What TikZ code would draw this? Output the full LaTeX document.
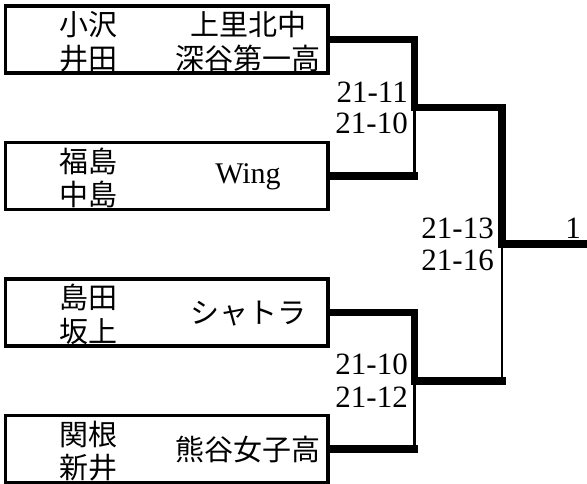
\documentclass[tikz,border=0pt]{standalone}
\usepackage{fontspec}
\setmainfont{Liberation Serif}
\newfontfamily\cjk{Noto Sans CJK JP}
\begin{document}
\begin{tikzpicture}[x=1pt,y=-1pt,
  teambox/.style={draw, line width=3.3pt, minimum width=322.5pt, minimum height=67pt, inner sep=0pt, outer sep=0pt, anchor=west},
  pname/.style={inner sep=0pt, anchor=west, font=\cjk\fontsize{29}{33}\selectfont},
  tname/.style={inner sep=0pt, font=\cjk\fontsize{29}{33}\selectfont},
  lname/.style={inner sep=0pt, font=\fontsize{30}{33}\selectfont},
  score/.style={inner sep=0pt, anchor=east, font=\fontsize{31}{33}\selectfont},
  win/.style={line width=7.5pt, line join=miter},
  lose/.style={line width=2.8pt}]
\useasboundingbox (0,0) rectangle (587,484);
% boxes
\node[teambox] (b1) at (5.5,39.5) {};
\node[teambox] (b2) at (5.5,176) {};
\node[teambox] (b3) at (5.5,312.5) {};
\node[teambox] (b4) at (5.5,449) {};
% players
\node[pname] (p1a) at (59,24.75) {小沢};
\node[pname] (p1b) at (59,58.25) {井田};
\node[pname] (p2a) at (59,161.25) {福島};
\node[pname] (p2b) at (59,194.75) {中島};
\node[pname] (p3a) at (59,297.75) {島田};
\node[pname] (p3b) at (59,331.25) {坂上};
\node[pname] (p4a) at (59,434.25) {関根};
\node[pname] (p4b) at (59,467.75) {新井};
% teams
\node[tname] (t1a) at (248,24.75) {上里北中};
\node[tname] (t1b) at (248,58.25) {深谷第一高};
\node[lname] (t2) at (248,177) {Wing};
\node[tname] (t3) at (248,313.5) {シャトラ};
\node[tname] (t4) at (248,450) {熊谷女子高};
% junctions
\coordinate (j1) at (414.5,107.75);
\coordinate (j2) at (414.5,380.75);
\coordinate (j3) at (502,244.25);
\coordinate (fin) at (587,244.25);
\coordinate (c2) at (j1 |- b2.east);
\coordinate (c4) at (j2 |- b4.east);
\coordinate (k) at (j3 |- j2);
% connectors
\draw[win] (b1.east) -| (j1) -| (j3) -- (fin);
\draw[win, shorten >=-3.75pt] (b2.east) -- (c2);
\draw[lose] (j1) -- (c2);
\draw[win, shorten >=-3.75pt] (b3.east) -| (j2) -- (k);
\draw[lose] (j3) -- (k);
\draw[win, shorten >=-3.75pt] (b4.east) -- (c4);
\draw[lose] (j2) -- (c4);
% scores
\node[score] (s1a) at (408,91.75) {21-11};
\node[score] (s1b) at (408,123.75) {21-10};
\node[score] (s2a) at (494,228.25) {21-13};
\node[score] (s2b) at (494,260.25) {21-16};
\node[score] (s3a) at (408,364.75) {21-10};
\node[score] (s3b) at (408,396.75) {21-12};
\node[score] (r) at (581,228.25) {1};
\end{tikzpicture}
\end{document}
